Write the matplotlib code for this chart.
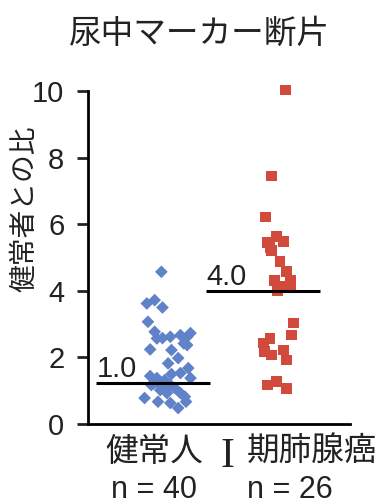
import numpy as np
import matplotlib.pyplot as plt

plt.rcParams['font.family'] = ['Liberation Sans', 'Noto Sans CJK JP', 'DejaVu Sans']

title = '尿中マーカー断片'
ylabel = '健常者との比'
groups = ['健常人', '期肺腺癌']
stage = 'I'
n_labels = ['n = 40', 'n = 26']
mean_labels = ['1.0', '4.0']
mean_values = [1.24, 3.98]

# healthy (n=40): jitter offset from group centre, ratio
healthy_dx = [-0.05, -0.18, -0.11, -0.04, -0.17, -0.11, -0.09, -0.04, 0.03, 0.12,
              0.18, 0.21, 0.18, -0.15, 0.04, 0.10, 0.19, 0.12, 0.04, 0.21,
              -0.15, -0.09, -0.02, -0.14, -0.04, 0.03, -0.06, 0.07, 0.12, 0.00,
              0.16, -0.20, -0.08, 0.03, 0.17, 0.10, -0.06, -0.12, 0.15, 0.01]
healthy_y = [4.57, 3.62, 3.72, 3.50, 3.07, 2.77, 2.57, 2.58, 2.62, 2.67,
             2.62, 2.73, 2.37, 2.24, 2.22, 1.98, 1.68, 1.53, 1.50, 1.38,
             1.44, 1.38, 1.32, 1.17, 1.12, 1.17, 1.02, 1.08, 0.93, 0.93,
             0.82, 0.78, 0.67, 0.63, 0.67, 0.48, 1.17, 1.22, 2.42, 1.82]

# stage I lung adenocarcinoma (n=26)
cancer_dx = [0.06, -0.07, -0.12, -0.02, -0.10, 0.04, -0.07, 0.01, 0.07, -0.04,
             0.10, 0.05, -0.01, 0.13, 0.11, -0.08, -0.14, -0.13, 0.04, -0.07,
             0.07, -0.02, -0.10, 0.07, -0.08, 0.10]
cancer_y = [10.03, 7.45, 6.22, 5.62, 5.44, 5.47, 5.22, 4.87, 4.57, 4.32,
            4.32, 4.12, 4.02, 3.03, 2.67, 2.57, 2.43, 2.17, 2.22, 2.07,
            1.92, 1.27, 1.17, 1.07, 5.30, 4.20]

blue = '#5f82c8'
red = '#d24a3c'
dark = '#222222'

fig = plt.figure(figsize=(3.85, 5.04), dpi=100)
ax = fig.add_axes([0.2286, 0.1587, 0.6805, 0.6607])

pos = [1, 2]
ax.scatter(pos[0] + np.array(healthy_dx), healthy_y, marker='D', s=42,
           color=blue, edgecolor='none', clip_on=False, zorder=3)
ax.scatter(pos[1] + np.array(cancer_dx), cancer_y, marker='s', s=60,
           color=red, edgecolor='none', clip_on=False, zorder=3)

# mean lines + labels
spans = [(-0.63, 0.38), (-0.65, 0.37)]
for p, m, lab, (a, b) in zip(pos, mean_values, mean_labels, spans):
    ax.plot([p + a, p + b], [m, m], color='black', lw=2.2, zorder=4, solid_capstyle='butt')
    ax.text(p + a + 0.005, m + 0.18, lab, fontsize=21, color=dark, ha='left', va='baseline')

ax.set_xlim(0.295, 2.634)
ax.set_ylim(0, 10)
ax.set_yticks([0, 2, 4, 6, 8, 10])
ax.tick_params(axis='y', labelsize=21, length=8, width=2, pad=9, colors=dark)
ax.set_xticks([])
for s in ['top', 'right']:
    ax.spines[s].set_visible(False)
ax.spines['left'].set_linewidth(2)
ax.spines['bottom'].set_linewidth(2)

# group labels under the axis (pixel-based placement in figure coords)
W, H = 385, 504
fig.text(105 / W, 1 - 452 / H, groups[0], fontsize=23.5, color=dark, ha='left', va='center')
fig.text(221 / W, 1 - 467 / H, stage, fontsize=30, color=dark, ha='left', va='baseline',
         family='Liberation Serif')
fig.text(247 / W, 1 - 452 / H, groups[1], fontsize=23.5, color=dark, ha='left', va='center')
fig.text(111 / W, 1 - 498 / H, n_labels[0], fontsize=22, color=dark, ha='left', va='baseline')
fig.text(247 / W, 1 - 498 / H, n_labels[1], fontsize=22, color=dark, ha='left', va='baseline')

fig.text(199 / W, 1 - 34 / H, title, fontsize=23.5, color=dark, ha='center', va='center')
fig.text(25 / W, 1 - 209 / H, ylabel, fontsize=20, color=dark, rotation=90, ha='center', va='center')

fig.savefig('out.png', dpi=100)
